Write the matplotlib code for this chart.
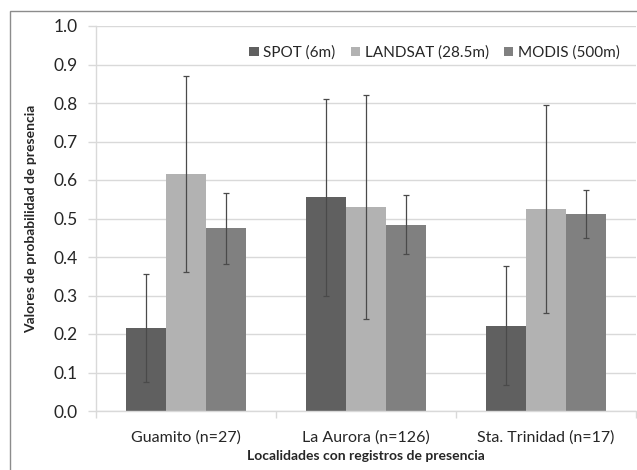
import matplotlib
matplotlib.use("Agg")
import matplotlib.pyplot as plt
from matplotlib.patches import Rectangle
import numpy as np

plt.rcParams['font.family'] = ['Lato', 'DejaVu Sans']

localidades = ["Guamito (n=27)", "La Aurora (n=126)", "Sta. Trinidad (n=17)"]
sensores = ["SPOT (6m)", "LANDSAT (28.5m)", "MODIS (500m)"]
colores = ["#606060", "#b2b2b2", "#808080"]

# media y desviacion por sensor, una entrada por localidad
spot = [0.216, 0.555, 0.222]
spot_sd = [0.141, 0.255, 0.155]
landsat = [0.615, 0.531, 0.525]
landsat_sd = [0.255, 0.291, 0.270]
modis = [0.475, 0.484, 0.511]
modis_sd = [0.092, 0.076, 0.062]

yticks = [0.0, 0.1, 0.2, 0.3, 0.4, 0.5, 0.6, 0.7, 0.8, 0.9, 1.0]

fig = plt.figure(figsize=(6.37, 4.70), dpi=100)
ax = fig.add_axes([96/637, 1-411/470, 540/637, 385/470])

# marco exterior del grafico
fig.patches.append(Rectangle((10/637, -0.1), 1.2, 1-11/470+0.1,
                             transform=fig.transFigure, fill=False,
                             edgecolor="#8c8c8c", linewidth=1.0))

x = np.arange(len(localidades))
w = 2/9
series = [(spot, spot_sd), (landsat, landsat_sd), (modis, modis_sd)]
for i, (vals, sd) in enumerate(series):
    pos = x + (i - 1) * w
    ax.bar(pos, vals, width=w, color=colores[i], label=sensores[i], zorder=2)
    ax.errorbar(pos, vals, yerr=sd, fmt="none", ecolor="#4a4a4a",
                elinewidth=0.9, capsize=2, capthick=0.9, zorder=3)

ax.set_xlim(-0.5, 2.5)
ax.set_ylim(0, 1.0)
ax.set_yticks(yticks)
ax.set_yticklabels(["%.1f" % v for v in yticks])
ax.yaxis.grid(True, color="#d9d9d9", linewidth=1.0, zorder=0)
ax.set_axisbelow(True)

ax.set_xticks(x)
ax.set_xticklabels(localidades)
ax.set_xticks([-0.5, 0.5, 1.5, 2.5], minor=True)
ax.tick_params(axis="x", which="major", length=0, pad=14, labelsize=11.5, colors="#262626")
ax.tick_params(axis="x", which="minor", length=5, color="#d9d9d9", width=1)
ax.tick_params(axis="y", length=6, color="#d9d9d9", width=1, pad=7,
               labelsize=12.5, labelcolor="#262626")

for s in ["top", "right"]:
    ax.spines[s].set_visible(False)
for s in ["left", "bottom"]:
    ax.spines[s].set_color("#d9d9d9")
    ax.spines[s].set_linewidth(1.0)

ax.set_ylabel("Valores de probabilidad de presencia", fontsize=10,
              fontweight="bold", color="#262626", labelpad=12)
ax.set_xlabel("Localidades con registros de presencia", fontsize=10,
              fontweight="bold", color="#262626", labelpad=4)

ax.legend(loc="upper right", bbox_to_anchor=(0.995, 0.985), ncol=3, frameon=False,
          fontsize=11, handlelength=0.6, handleheight=0.6, handletextpad=0.3,
          columnspacing=1.0, labelcolor="#262626")

fig.savefig("out.png", dpi=100)
